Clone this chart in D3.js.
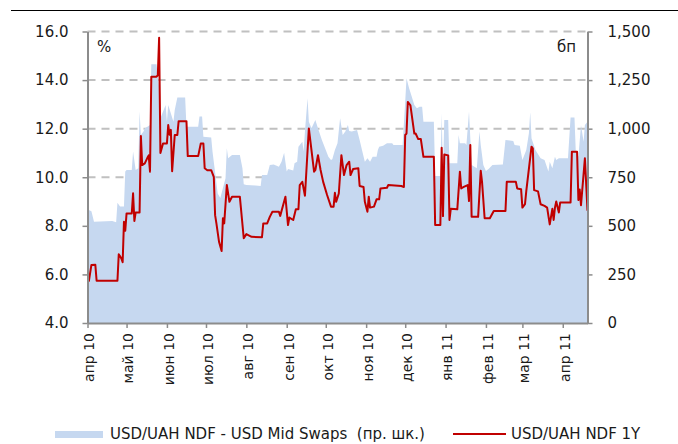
<!DOCTYPE html>
<html>
<head>
<meta charset="utf-8">
<script src="https://cdn.jsdelivr.net/npm/d3@7"></script>
<style>
body{margin:0;background:#fff;}
text{font-family:"DejaVu Sans",sans-serif;fill:#1a1a1a;}
</style>
</head>
<body>
<div id="container"></div>
<script>
// spread USD/UAH NDF - USD Mid Swaps, bp (right axis)
const spreadData = [
["2010-04-02",581],["2010-04-04",575],["2010-04-06",521],["2010-04-20",525],["2010-04-23",518],["2010-04-24",619],
["2010-04-26",600],["2010-04-29",599],["2010-04-30",779],["2010-05-01",787],["2010-05-05",787],["2010-05-06",882],
["2010-05-08",787],["2010-05-10",796],["2010-05-11",1088],["2010-05-12",968],["2010-05-14",985],["2010-05-15",1002],
["2010-05-17",1010],["2010-05-19",1019],["2010-05-20",1331],["2010-05-24",1331],["2010-05-26",1216],["2010-05-27",1053],
["2010-05-31",1122],["2010-06-01",1036],["2010-06-02",1122],["2010-06-06",1036],["2010-06-07",1096],["2010-06-09",1160],
["2010-06-15",1160],["2010-06-16",1010],["2010-06-25",1010],["2010-06-26",1062],["2010-06-28",1062],["2010-06-29",959],
["2010-07-05",954],["2010-07-06",882],["2010-07-10",667],["2010-07-12",643],["2010-07-16",745],["2010-07-17",899],
["2010-07-18",848],["2010-07-21",865],["2010-07-27",865],["2010-07-29",796],["2010-07-30",714],["2010-08-01",710],
["2010-08-08",707],["2010-08-12",705],["2010-08-13",762],["2010-08-17",762],["2010-08-19",813],["2010-08-22",816],
["2010-08-26",804],["2010-08-28",830],["2010-08-30",876],["2010-09-01",780],["2010-09-02",793],["2010-09-06",785],
["2010-09-07",822],["2010-09-09",830],["2010-09-10",907],["2010-09-13",933],["2010-09-14",882],["2010-09-15",985],
["2010-09-17",1156],["2010-09-18",1036],["2010-09-20",1002],["2010-09-23",1045],["2010-09-25",1002],["2010-09-28",942],
["2010-10-01",890],["2010-10-03",856],["2010-10-05",839],["2010-10-06",842],["2010-10-08",890],["2010-10-10",925],
["2010-10-12",1053],["2010-10-14",968],["2010-10-16",985],["2010-10-18",1019],["2010-10-19",988],["2010-10-21",985],
["2010-10-25",993],["2010-10-27",942],["2010-10-29",885],["2010-10-31",830],["2010-11-02",848],["2010-11-04",830],
["2010-11-06",856],["2010-11-09",856],["2010-11-10",890],["2010-11-11",907],["2010-11-14",912],["2010-11-17",925],
["2010-11-21",925],["2010-11-22",916],["2010-11-29",916],["2010-12-01",1139],["2010-12-02",1259],["2010-12-04",1208],
["2010-12-06",1165],["2010-12-08",1122],["2010-12-10",1105],["2010-12-12",1113],["2010-12-14",1113],["2010-12-15",1036],
["2010-12-23",1036],["2010-12-24",757],["2010-12-28",757],["2010-12-29",1079],["2010-12-30",762],["2010-12-31",1045],
["2011-01-03",1045],["2011-01-04",822],["2011-01-10",822],["2011-01-11",968],["2011-01-12",925],["2011-01-16",925],
["2011-01-17",916],["2011-01-19",1088],["2011-01-21",813],["2011-01-25",796],["2011-01-27",985],["2011-01-28",916],
["2011-01-30",813],["2011-02-01",782],["2011-02-03",793],["2011-02-06",813],["2011-02-14",816],["2011-02-16",942],
["2011-02-22",936],["2011-02-23",916],["2011-02-27",912],["2011-03-01",839],["2011-03-02",856],["2011-03-04",890],
["2011-03-06",976],["2011-03-07",1084],["2011-03-08",951],["2011-03-11",890],["2011-03-15",848],["2011-03-18",839],
["2011-03-21",779],["2011-03-22",830],["2011-03-24",796],["2011-03-26",856],["2011-03-27",839],["2011-03-29",848],
["2011-04-05",848],["2011-04-07",1057],["2011-04-10",1057],["2011-04-11",882],["2011-04-13",856],["2011-04-15",1019],
["2011-04-17",933],["2011-04-18",1019],["2011-04-20",1036]
]

// USD/UAH NDF 1Y, % (left axis)
const ndfData = [
["2010-04-02",5.70],["2010-04-04",6.39],["2010-04-07",6.40],["2010-04-08",5.74],["2010-04-24",5.74],["2010-04-25",6.83],
["2010-04-27",6.66],["2010-04-28",6.50],["2010-04-29",8.17],["2010-04-30",7.80],["2010-05-01",8.51],["2010-05-05",8.51],
["2010-05-06",9.34],["2010-05-07",8.20],["2010-05-08",8.55],["2010-05-11",8.55],["2010-05-12",11.70],["2010-05-13",10.50],
["2010-05-15",10.57],["2010-05-17",10.80],["2010-05-18",10.90],["2010-05-19",10.23],["2010-05-20",14.14],["2010-05-24",14.14],
["2010-05-25",14.20],["2010-05-26",15.74],["2010-05-27",11.00],["2010-05-29",11.39],["2010-06-01",11.39],["2010-06-02",12.15],
["2010-06-03",11.75],["2010-06-04",11.95],["2010-06-05",10.25],["2010-06-07",11.74],["2010-06-09",11.74],["2010-06-10",12.31],
["2010-06-16",12.31],["2010-06-17",10.87],["2010-06-25",10.87],["2010-06-27",11.39],["2010-06-29",11.39],["2010-06-30",10.37],
["2010-07-02",10.29],["2010-07-05",10.29],["2010-07-07",10.02],["2010-07-08",8.44],["2010-07-09",8.10],["2010-07-11",7.35],
["2010-07-13",6.96],["2010-07-14",8.31],["2010-07-15",8.10],["2010-07-17",9.68],["2010-07-19",8.99],["2010-07-21",9.20],
["2010-07-27",9.20],["2010-07-30",7.49],["2010-08-01",7.66],["2010-08-05",7.55],["2010-08-13",7.53],["2010-08-14",8.10],
["2010-08-17",8.10],["2010-08-19",8.37],["2010-08-21",8.58],["2010-08-26",8.58],["2010-08-27",8.41],["2010-08-31",9.20],
["2010-09-02",8.03],["2010-09-03",8.34],["2010-09-06",8.24],["2010-09-08",8.68],["2010-09-10",8.68],["2010-09-11",9.68],
["2010-09-13",9.81],["2010-09-15",9.24],["2010-09-18",12.01],["2010-09-22",10.23],["2010-09-23",10.30],["2010-09-25",10.91],
["2010-09-27",10.30],["2010-09-29",9.81],["2010-10-02",9.27],["2010-10-05",8.79],["2010-10-07",8.79],["2010-10-08",9.36],
["2010-10-09",8.99],["2010-10-11",9.33],["2010-10-13",10.91],["2010-10-15",10.09],["2010-10-17",10.50],["2010-10-19",10.64],
["2010-10-20",10.09],["2010-10-22",10.34],["2010-10-26",10.37],["2010-10-27",9.64],["2010-10-30",9.60],["2010-10-31",8.99],
["2010-11-02",8.58],["2010-11-03",9.20],["2010-11-04",8.75],["2010-11-07",8.79],["2010-11-09",9.09],["2010-11-11",9.09],
["2010-11-12",9.54],["2010-11-17",9.57],["2010-11-18",9.68],["2010-11-28",9.64],["2010-11-30",9.60],["2010-12-01",11.74],
["2010-12-02",11.80],["2010-12-03",13.10],["2010-12-05",12.96],["2010-12-08",11.80],["2010-12-09",11.80],["2010-12-11",11.57],
["2010-12-13",11.57],["2010-12-15",10.84],["2010-12-23",10.84],["2010-12-24",8.03],["2010-12-28",8.03],["2010-12-29",11.21],
["2010-12-30",8.40],["2010-12-31",10.94],["2011-01-03",10.90],["2011-01-04",8.24],["2011-01-05",8.70],["2011-01-10",8.68],
["2011-01-12",10.23],["2011-01-13",9.54],["2011-01-15",9.60],["2011-01-18",9.68],["2011-01-19",9.02],["2011-01-20",11.33],
["2011-01-21",8.37],["2011-01-26",8.37],["2011-01-28",10.27],["2011-01-29",9.81],["2011-01-31",8.31],["2011-02-04",8.31],
["2011-02-07",8.61],["2011-02-16",8.61],["2011-02-17",9.81],["2011-02-24",9.81],["2011-02-25",9.54],["2011-02-28",9.51],
["2011-03-01",8.75],["2011-03-03",8.89],["2011-03-04",9.44],["2011-03-08",11.26],["2011-03-09",11.19],["2011-03-10",9.47],
["2011-03-13",9.42],["2011-03-15",8.89],["2011-03-18",8.82],["2011-03-20",8.75],["2011-03-22",8.06],["2011-03-24",8.70],
["2011-03-25",8.24],["2011-03-26",8.75],["2011-03-27",9.00],["2011-03-29",8.55],["2011-03-30",8.96],["2011-04-07",8.96],
["2011-04-08",11.05],["2011-04-12",11.05],["2011-04-13",9.06],["2011-04-14",9.50],["2011-04-15",8.85],["2011-04-18",10.78],
["2011-04-20",8.62]
]

const monthLabels = ["апр 10","май 10","июн 10","июл 10","авг 10","сен 10","окт 10","ноя 10","дек 10","янв 11","фев 11","мар 11","апр 11"]
const leftTicks = [4,6,8,10,12,14,16]
const rightTicks = [0,250,500,750,1000,1250,1500]
const legendLabels = ["USD/UAH NDF - USD Mid Swaps  (пр. шк.)","USD/UAH NDF 1Y"]

const parse = d3.timeParse("%Y-%m-%d")
const spread = spreadData.map(d=>({date:parse(d[0]),value:d[1]}))
const ndf = ndfData.map(d=>({date:parse(d[0]),value:d[1]}))

const width=678;
const height=444;
const plotLeft=87.5, plotRight=587.5, plotTop=31.5, plotBottom=323;
const axisColor="#8c8c8c"

const x = d3.scaleTime()
.domain([parse("2010-04-01"),parse("2011-04-20")])
.range([plotLeft,plotRight])

const yL = d3.scaleLinear().domain([4,16]).range([plotBottom,plotTop])
const yR = d3.scaleLinear().domain([0,1500]).range([plotBottom,plotTop])

const svg = d3.select("#container").append("svg")
              .attr("width",width)
              .attr("height",height)

// top rule
svg.append("line")
   .attr("x1",11).attr("x2",678)
   .attr("y1",10.5).attr("y2",10.5)
   .attr("stroke","#000")
   .attr("stroke-width",1)

// grid
svg.append("g")
   .selectAll("line")
   .data(leftTicks.filter(t=>t>4))
   .enter()
   .append("line")
   .attr("x1",plotLeft).attr("x2",plotRight)
   .attr("y1",d=>yL(d)).attr("y2",d=>yL(d))
   .attr("stroke","#c0c0c0")
   .attr("stroke-width",2)
   .attr("stroke-dasharray","8,6")

// area
const area = d3.area()
.x(d=>x(d.date))
.y0(plotBottom)
.y1(d=>yR(d.value))

svg.append("path")
   .datum(spread)
   .attr("d",area)
   .attr("fill","#c6d8f0")

// line
const line = d3.line()
.x(d=>x(d.date))
.y(d=>yL(d.value))

svg.append("path")
   .datum(ndf)
   .attr("d",line)
   .attr("fill","none")
   .attr("stroke","#c00000")
   .attr("stroke-width",2)
   .attr("stroke-linejoin","round")

/*axes*/
function styleAxis(g){
    g.select(".domain").attr("stroke",axisColor).attr("stroke-width",2)
    g.selectAll(".tick line").attr("stroke",axisColor).attr("stroke-width",1.5)
    g.selectAll("text").attr("font-size",15).attr("fill","#1a1a1a").attr("font-family","DejaVu Sans")
}

svg.append("g")
   .attr("transform",`translate(${plotLeft},0)`)
   .call(d3.axisLeft(yL).tickValues(leftTicks).tickSize(5).tickSizeOuter(0).tickPadding(14).tickFormat(d3.format(".1f")))
   .call(styleAxis)

svg.append("g")
   .attr("transform",`translate(${plotRight},0)`)
   .call(d3.axisRight(yR).tickValues(rightTicks).tickSize(5).tickSizeOuter(0).tickPadding(15).tickFormat(d3.format(",")))
   .call(styleAxis)

const months = d3.timeMonth.range(parse("2010-04-01"),parse("2011-04-02"))

svg.append("g")
   .attr("transform",`translate(0,${plotBottom})`)
   .call(d3.axisBottom(x).tickValues(months).tickSize(5).tickSizeOuter(0).tickFormat(""))
   .call(styleAxis)

svg.append("g")
   .selectAll("text")
   .data(months)
   .enter()
   .append("text")
   .attr("transform",d=>`translate(${x(d)+2},333) rotate(-90)`)
   .attr("text-anchor","end")
   .attr("dy","0.35em")
   .attr("font-size",14)
   .text((d,i)=>monthLabels[i])

svg.append("text").attr("x",97).attr("y",52).attr("font-size",15).text("%")
svg.append("text").attr("x",576).attr("y",52).attr("font-size",15).attr("text-anchor","end").text("бп")

/*legend*/
const legend = svg.append("g")
legend.append("rect")
      .attr("x",55).attr("y",431)
      .attr("width",48).attr("height",7)
      .attr("fill","#c6d8f0")
legend.append("text").attr("x",110).attr("y",439).attr("font-size",15)
      .style("white-space","pre").text(legendLabels[0])
legend.append("line")
      .attr("x1",453).attr("x2",506)
      .attr("y1",434).attr("y2",434)
      .attr("stroke","#c00000").attr("stroke-width",2)
legend.append("text").attr("x",511).attr("y",439).attr("font-size",15).text(legendLabels[1])
</script>
</body>
</html>
